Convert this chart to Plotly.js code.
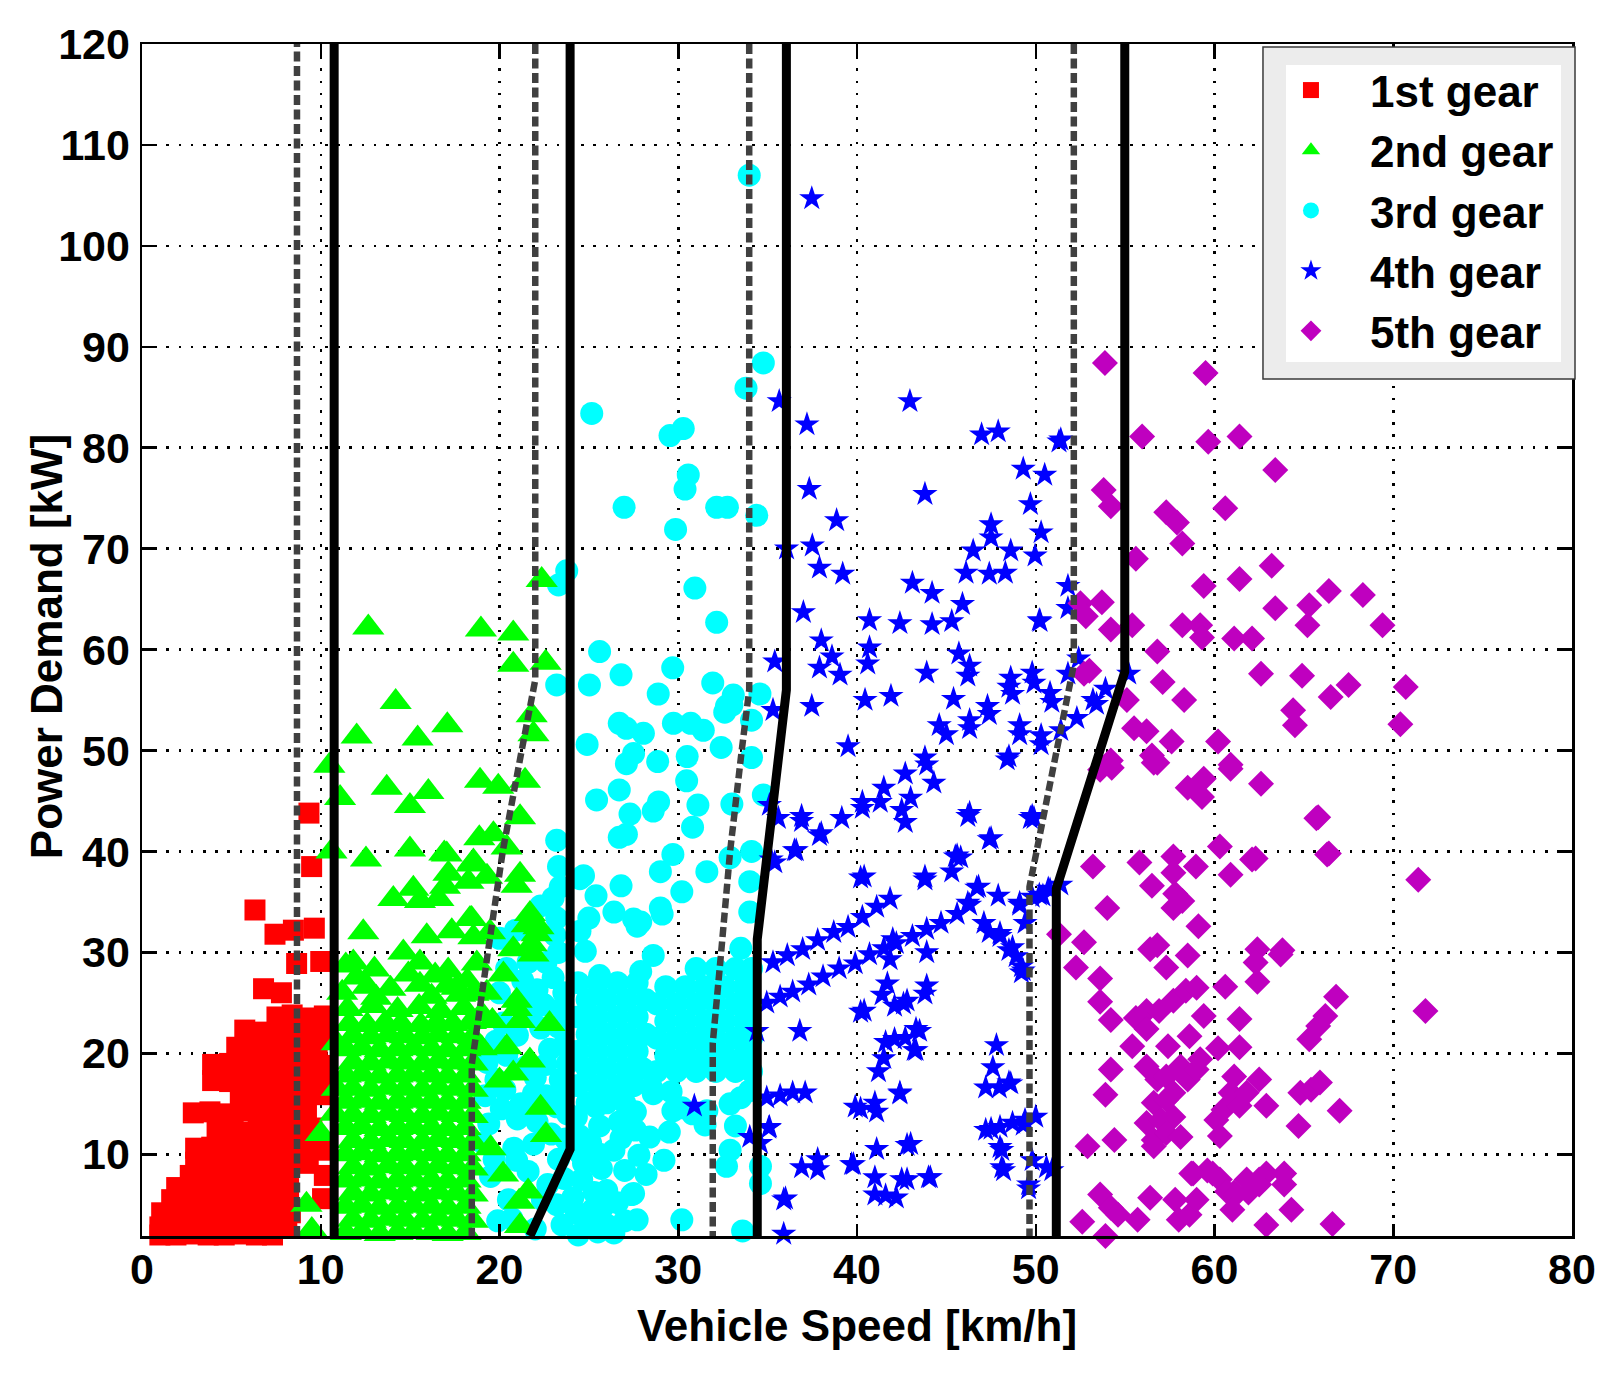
<!DOCTYPE html>
<html>
<head>
<meta charset="utf-8">
<script src="https://cdn.plot.ly/plotly-3.0.1.min.js"></script>
<style>
html,body{margin:0;padding:0;background:#fff;}
#chart{width:1612px;height:1375px;}
</style>
</head>
<body>
<div id="chart"></div>
<script>
// ---- Data: [vehicle speed km/h, power demand kW] per gear ----
const gear1Points = [
[9.34,43.8],[9.49,38.5],[6.32,34.2],[7.44,31.8],[8.47,32.2],[9.64,32.4],[8.65,28.9],[10.0,29.1],[6.8,26.4],[7.8,26.0],
[7.55,23.6],[8.4,23.8],[9.3,23.5],[10.2,23.7],
[5.75,22.3],[6.7,22.1],[7.6,22.4],[8.5,22.2],[9.4,22.3],[10.2,22.0],
[5.3,20.6],[6.2,20.8],[7.1,20.5],[8.0,20.7],[8.9,20.4],[9.8,20.6],
[3.95,18.9],[4.9,19.0],[5.8,18.8],[6.7,19.1],[7.6,18.7],[8.5,18.9],[9.4,19.2],[10.2,18.8],
[3.95,17.3],[4.9,17.2],[5.8,17.5],[6.7,17.3],[7.6,17.4],[8.5,17.1],[9.4,17.3],[10.2,17.5],
[5.5,15.8],[6.4,15.7],[7.3,15.9],[8.2,15.8],[9.1,15.6],[10.1,15.9],
[2.87,14.1],[3.8,14.2],[4.7,14.0],[5.6,14.3],[6.5,14.1],[7.4,14.0],[8.3,14.2],[9.2,14.1],
[4.2,12.3],[5.1,12.4],[6.0,12.2],[6.9,12.5],[7.8,12.3],[8.7,12.2],[9.5,12.6],
[3.0,10.6],[3.9,10.7],[4.8,10.5],[5.7,10.6],[6.6,10.8],[7.5,10.5],[8.4,10.6],[9.3,10.7],[10.2,10.4],
[3.0,9.2],[3.9,9.1],[4.8,9.3],[5.7,9.2],[6.6,9.0],[7.5,9.2],[8.4,9.3],[9.3,9.1],
[2.7,7.9],[3.6,8.0],[4.5,7.8],[5.4,7.9],[6.3,8.1],[7.2,7.8],[8.1,7.9],[10.2,7.9],
[1.94,6.7],[2.9,6.6],[3.8,6.8],[4.7,6.7],[5.6,6.5],[6.5,6.7],[7.4,6.8],[8.2,6.6],
[1.66,5.5],[2.6,5.4],[3.5,5.6],[4.4,5.5],[5.3,5.3],[6.2,5.5],[7.1,5.6],[8.0,5.4],[10.1,5.6],
[1.1,4.2],[2.0,4.1],[2.9,4.3],[3.8,4.2],[4.7,4.0],[5.6,4.2],[6.5,4.3],[7.4,4.1],[8.3,4.2],
[1.0,2.8],[1.9,2.9],[2.8,2.7],[3.7,2.8],[4.6,3.0],[5.5,2.8],[6.4,2.7],[7.3,2.9],[8.1,2.8],
[1.0,2.0],[1.9,2.0],[2.8,2.1],[3.7,2.0],[4.6,2.0],[5.5,2.1],[6.4,2.0],[7.3,2.0]
];

const gear2Points = [
[12.66,62.2],[18.96,62.0],[20.77,61.6],[20.77,58.5],[22.58,58.7],[22.36,66.9],[14.19,54.8],[12.01,51.4],[15.42,51.2],[17.08,52.5],
[21.8,53.5],[21.9,51.6],[10.48,48.5],[11.08,45.3],[13.69,46.3],[14.99,44.5],[16.02,45.9],[18.91,47.0],[19.93,46.4],[21.43,47.0],
[21.15,43.4],[10.6,40.0],[12.53,39.2],[14.99,40.2],[16.91,39.8],[18.87,41.3],[19.66,41.7],[18.44,38.7],[19.3,37.5],[21.15,37.7],
[20.4,40.4],[17.05,39.7],[18.54,39.0],[20.96,36.6],[14.06,35.3],[15.18,36.3],[15.55,35.1],[16.95,36.5],[16.58,35.3],[18.26,37.0],
[17.14,37.8],[18.35,33.3],[17.33,32.1],[18.54,31.5],[21.7,33.8],[22.18,32.5],[21.8,30.8],[12.38,32.0],[15.93,31.6],[18.44,33.3],
[19.47,32.0],[21.52,32.7],[22.08,31.8],[20.77,30.3],[11.82,29.0],[14.62,30.0],[15.55,29.0],[17.13,28.2],[18.73,28.9],[20.22,27.8],
[21.9,29.8],[17.6,26.5],[18.54,25.9],[19.29,26.0],[20.96,25.2],[20.96,24.4],[19.0,23.9],[19.6,23.2],[21.15,23.2],[22.8,22.9],
[20.4,20.6],[21.7,19.3],[20.0,17.3],[20.77,18.0],[22.3,14.6],[22.6,11.9],[19.5,10.6],[21.6,6.3],[21.1,5.3],[21.15,2.9],
[20.2,8.0],
[9.2,5.0],[9.5,2.5],[10.0,12.0],[10.9,21.0],[10.9,16.5],[10.8,14.0],[11.2,26.0],[11.4,28.7],
[12.0,27.5],[13.0,28.3],[14.9,27.8],[16.4,27.7],[18.2,27.2],
[12.6,26.6],[13.9,26.4],[15.55,26.8],[17.1,26.7],[13.1,25.5],[16.2,25.6],[17.8,25.8],
[11.5,24.4],[12.9,24.7],[14.3,24.3],[15.5,24.6],[16.7,24.2],[18.0,24.5],
[11.6,22.9],[12.6,22.8],[13.6,23.0],[14.5,22.9],[15.6,22.8],[16.5,23.0],[17.4,22.9],[18.4,23.1],
[11.8,21.7],[12.8,21.6],[13.8,21.8],[14.7,21.7],[15.7,21.6],[16.6,21.8],[17.6,21.7],[18.5,21.6],
[11.4,20.4],[12.3,20.5],[13.3,20.3],[14.3,20.4],[15.2,20.5],[16.2,20.4],[17.1,20.3],[18.1,20.4],[19.0,20.5],
[11.8,19.1],[12.8,19.0],[13.8,19.2],[14.7,19.1],[15.7,19.0],[16.6,19.2],[17.6,19.1],[18.5,19.0],
[11.4,17.8],[12.3,17.9],[13.3,17.7],[14.3,17.8],[15.2,17.9],[16.2,17.8],[17.1,17.7],[18.1,17.8],
[11.8,16.5],[12.8,16.4],[13.8,16.6],[14.7,16.5],[15.7,16.4],[16.6,16.6],[17.6,16.5],[18.5,16.4],
[11.4,15.2],[12.3,15.3],[13.3,15.1],[14.3,15.2],[15.2,15.3],[16.2,15.2],[17.1,15.1],[18.1,15.2],
[11.8,13.9],[12.8,13.8],[13.8,14.0],[14.7,13.9],[15.7,13.8],[16.6,14.0],[17.6,13.9],[18.5,13.8],
[11.4,12.6],[12.3,12.7],[13.3,12.5],[14.3,12.6],[15.2,12.7],[16.2,12.6],[17.1,12.5],[18.1,12.6],
[11.8,11.3],[12.8,11.2],[13.8,11.4],[14.7,11.3],[15.7,11.2],[16.6,11.4],[17.6,11.3],[18.5,11.2],
[11.4,10.0],[12.3,10.1],[13.3,9.9],[14.3,10.0],[15.2,10.1],[16.2,10.0],[17.1,9.9],[18.1,10.0],
[11.8,8.7],[12.8,8.6],[13.8,8.8],[14.7,8.7],[15.7,8.6],[16.6,8.8],[17.6,8.7],[18.5,8.6],
[11.4,7.4],[12.3,7.5],[13.3,7.3],[14.3,7.4],[15.2,7.5],[16.2,7.4],[17.1,7.3],[18.1,7.4],
[11.8,6.1],[12.8,6.0],[13.8,6.2],[14.7,6.1],[15.7,6.0],[16.6,6.2],[17.6,6.1],[18.5,6.0],
[11.4,4.8],[12.3,4.9],[13.3,4.7],[14.3,4.8],[15.2,4.9],[16.2,4.8],[17.1,4.7],[18.1,4.8],
[11.8,3.5],[12.8,3.4],[13.8,3.6],[14.7,3.5],[15.7,3.4],[16.6,3.6],[17.6,3.5],[18.5,3.4],
[11.4,2.2],[12.3,2.3],[13.3,2.1],[14.3,2.2],[15.2,2.3],[16.2,2.2],[17.1,2.1],[18.1,2.2]
];

const gear3Points = [
[33.97,107.0],[34.76,88.4],[33.79,85.9],[25.16,83.4],[29.54,81.2],[30.28,81.9],[30.56,77.3],[30.38,75.9],[26.97,74.1],[32.15,74.1],
[32.75,74.1],[34.39,73.3],[29.85,71.9],[30.93,66.1],[23.76,67.8],[23.3,66.4],[32.15,62.7],[25.6,59.8],[29.69,58.2],[26.8,57.5],
[25.03,56.5],[23.2,56.5],[31.93,56.7],[28.88,55.6],[34.57,55.6],[33.08,55.5],
[32.7,54.4],[27.1,52.2],[28.05,51.7],[26.7,52.7],[29.73,52.7],[30.7,52.7],[31.4,52.0],[32.6,53.8],[33.0,54.5],[32.4,50.3],
[34.1,53.0],[34.1,49.3],[27.1,48.7],[27.5,49.7],[28.85,48.9],[30.5,49.4],[30.47,47.0],[26.7,46.1],[25.43,45.1],[28.9,44.9],
[28.6,44.0],[27.3,43.7],[31.1,44.6],[30.8,42.4],[33.0,44.7],[34.76,45.6],[26.7,41.4],[27.1,41.7],[23.2,41.1],[29.7,39.7],
[29.0,38.0],[31.6,38.0],[32.9,39.4],[34.1,40.0],[34.0,37.0],[26.8,36.6],[24.7,37.6],[23.0,35.4],[30.2,36.0],[29.0,34.4],
[34.0,34.0],[24.5,37.3],[25.4,35.6],[26.4,34.0],[27.5,33.3],[27.9,33.0],[25.0,33.4],[24.5,32.1],[24.8,30.1],[23.2,33.4],
[23.1,31.7],[28.6,29.7],[20.4,28.4],[20.0,31.4],[22.1,26.3],[25.6,27.7],[27.9,28.1],[24.9,50.6],[23.3,38.5],[29.1,33.8],
[27.7,32.6],[33.5,30.4],[21.8,26.0],[22.3,34.6],[23.4,36.5],[20.9,32.2],
[24.4,27.0],[25.5,27.0],[26.6,27.0],[27.7,27.0],
[24.9,25.3],[26.0,25.3],[27.1,25.3],[28.2,25.3],
[24.4,23.6],[25.5,23.6],[26.6,23.6],[27.7,23.6],
[24.9,21.9],[26.0,21.9],[27.1,21.9],[28.2,21.9],
[24.4,20.2],[25.5,20.2],[26.6,20.2],[27.7,20.2],
[24.9,18.5],[26.0,18.5],[27.1,18.5],[28.0,18.5],
[24.4,16.8],[25.5,16.8],[26.6,16.8],[27.5,16.8],
[24.9,15.1],[26.0,15.1],[27.0,15.1],
[31.0,28.4],[32.1,28.4],[33.2,28.4],[34.1,28.4],
[29.3,26.6],[30.4,26.6],[31.5,26.6],[32.6,26.6],[33.7,26.6],
[28.8,24.9],[29.9,24.9],[31.0,24.9],[32.1,24.9],[33.2,24.9],[34.1,24.9],
[29.3,23.2],[30.4,23.2],[31.5,23.2],[32.6,23.2],[33.7,23.2],
[28.8,21.5],[29.9,21.5],[31.0,21.5],[32.1,21.5],[33.2,21.5],[34.1,21.5],
[29.3,19.8],[30.4,19.8],[31.5,19.8],[32.6,19.8],[33.7,19.8],
[28.8,18.2],[29.9,18.2],[31.0,18.2],[32.1,18.2],[33.2,18.2],[34.1,18.2],
[28.5,16.6],[29.6,16.2],[28.6,16.0],[29.7,14.3],[30.8,14.0],[31.6,14.3],[32.9,15.0],[34.0,16.3],[30.2,14.6],[33.5,15.6],
[29.5,12.2],[31.5,12.9],[33.2,12.8],[28.4,11.7],[29.2,9.4],
[27.6,12.4],[32.9,10.4],[32.7,8.8],[34.6,8.8],[34.6,7.1],[26.4,10.4],[27.0,8.4],[26.0,6.4],[27.5,6.1],[24.7,9.1],
[24.1,5.7],[25.1,11.1],[24.3,13.7],[25.4,14.7],[26.4,15.7],[24.5,11.8],[25.6,12.8],[26.7,13.2],[27.6,14.2],[24.6,7.5],
[25.7,8.6],[25.3,6.2],[24.9,3.8],[26.4,2.2],[27.7,3.5],[28.2,8.0],[23.5,3.0],[24.4,2.0],[25.2,4.5],[26.0,3.0],
[26.6,5.2],[27.4,6.0],[30.2,3.5],[33.6,2.4],[24.5,10.1],[25.6,10.0],[26.8,11.6],[27.8,9.9],[24.3,4.2],[25.8,4.8],
[27.0,3.4],[25.5,2.3],
[20.96,9.4],[19.5,7.8],[19.1,11.1],[19.3,19.1],[19.8,17.4],[21.5,18.7],[22.8,20.4],[23.4,17.4],[23.2,14.7],[21.9,16.0],
[22.9,12.0],[23.3,9.5],[22.7,7.0],[23.2,5.0],[21.9,11.0],[22.3,22.5],[23.5,24.5],[23.0,27.5],[21.0,13.5],[20.1,14.5],
[19.9,3.4],[20.5,5.5],[23.6,20.8],[22.5,24.8],[19.8,21.2],
[19.2,15.8],[20.3,16.4],[21.2,15.0],[22.0,17.6],[22.6,18.9],[21.0,21.8],[20.2,23.0],[21.8,24.0],[23.3,22.6],[20.0,26.0],
[21.3,27.2],[22.6,29.0],[23.3,30.0],[19.7,9.5],[20.8,10.6],[22.1,13.2],[21.6,8.3],[22.4,5.5],[20.7,3.6],[22.0,2.6],
[23.6,7.6],[23.7,11.5],[23.8,14.0],[23.6,16.0],[23.8,19.0],[23.6,26.0],[21.6,29.0],[19.4,13.0],[20.4,19.8],[22.6,15.8]
];

const gear4Points = [
[37.47,104.7],[35.65,84.6],[42.96,84.6],[37.2,82.3],[46.97,81.3],[47.9,81.6],[51.3,80.6],[49.3,77.9],[50.5,77.3],[37.33,75.9],
[43.8,75.4],[49.7,74.4],[38.86,72.8],[47.5,72.4],[47.5,71.1],[50.3,71.6],[36.06,70.0],[37.5,70.3],[46.5,69.8],[48.6,69.8],
[49.96,69.3],[37.9,68.1],[39.2,67.5],[46.1,67.6],[47.4,67.5],[48.3,67.6],[43.1,66.6],[44.2,65.6],[45.9,64.5],[40.7,62.9],
[42.4,62.6],[44.2,62.5],[45.3,62.8],[50.2,62.9],[37.0,63.7],[38.0,60.9],[38.6,59.3],[40.7,60.2],[40.6,58.6],[35.4,58.8],
[37.9,58.2],[39.05,57.5],[43.9,57.7],[45.7,59.6],[46.3,58.4],[48.6,57.2],[49.8,57.7],[51.8,66.3],[51.8,64.1],
[37.47,54.4],[40.45,55.0],[41.9,55.4],[45.4,55.1],[47.3,54.4],[48.5,56.3],[50.8,55.7],[44.6,52.5],[45.0,51.6],[46.3,53.0],
[49.1,52.5],[50.3,51.5],[39.5,50.4],[43.8,49.3],[43.9,48.6],[42.7,47.7],[44.3,46.8],[41.5,46.3],[48.4,49.1],[40.3,44.9],
[42.5,44.1],[42.7,42.9],[36.9,43.5],[39.15,43.3],[37.9,41.6],[46.3,43.8],[49.8,43.5],[47.4,41.2],[36.6,40.1],[35.4,38.9],
[45.6,39.6],[45.3,38.0],[40.4,37.5],[43.8,37.5],[46.8,36.5],[50.8,36.2],[50.2,35.7],[49.1,34.7],
[35.3,29.0],[36.1,29.7],[36.96,30.3],[37.8,31.2],[38.7,32.0],[39.5,32.5],[40.3,33.5],[41.1,34.5],[41.85,35.3],
[34.95,25.0],[35.7,25.6],[36.4,26.1],[37.3,26.8],[38.1,27.6],[39.0,28.4],[39.9,28.9],[40.7,29.8],[41.5,30.4],[42.2,30.9],
[43.1,31.6],[43.9,32.3],[44.7,32.9],[45.6,33.8],[46.3,34.7],
[41.85,29.3],[42.0,31.3],[43.9,30.0],[47.1,32.9],[48.0,31.6],[48.5,30.2],[48.9,29.6],[49.3,28.2],[43.9,26.7],[42.1,24.7],
[42.8,25.2],[40.4,24.2],[36.8,22.2],[34.4,22.2],[42.1,21.4],[42.7,21.5],[43.5,22.2],[43.3,20.3],[41.5,19.5],[41.2,18.2],
[47.8,20.8],[47.6,18.6],[47.96,16.6],[48.5,17.1],[47.2,16.6],[42.4,16.1],[40.2,14.5],[41.0,15.1],[41.1,14.2],
[34.95,15.6],[35.7,15.8],[36.4,16.1],[37.1,16.1],[35.1,12.7],[34.0,11.7],
[47.2,12.4],[48.0,12.7],[48.7,13.1],[49.4,13.4],[50.0,13.7],[48.0,10.7],[48.1,8.7],[41.1,10.5],[43.0,11.0],[36.9,8.7],
[37.8,9.5],[39.8,9.0],[41.0,7.7],[42.8,7.5],[44.1,7.7],[41.6,5.9],[42.2,5.7],[36.0,5.6],[49.8,9.4],[49.6,7.0],[50.6,8.7],
[50.24,62.8],[46.2,57.4],[48.7,55.6],[47.4,53.6],[49.9,56.7],[50.9,54.8],[52.3,53.2],[53.4,54.6],[51.4,52.0],[49.1,51.6],
[50.3,50.6],[48.5,49.4],[46.3,52.2],[46.2,43.5],[47.5,41.3],[49.9,43.3],[45.8,39.4],[46.2,34.9],[48.0,31.9],[49.2,28.6],
[49.1,34.9],[49.8,35.5],[50.7,36.3],[51.4,36.7],[48.6,17.0],[47.5,12.5],[49.3,12.9],[48.1,10.4],[48.2,8.4],[50.9,8.4],[49.6,6.6],
[53.9,56.1],[55.2,57.6],[53.2,55.0],[52.4,59.1],[51.8,57.6],[51.4,80.8],[35.6,43.3],[36.9,43.0],[38.0,41.8],[40.3,44.3],
[41.3,44.9],[43.0,45.3],[49.7,43.3],[35.2,39.2],[36.5,40.1],[40.2,37.4],[43.8,37.2],[45.5,39.5],[46.7,36.4],[47.9,35.6],
[49.4,32.9],[49.2,28.0],[48.7,30.5],[47.4,32.0],[50.4,35.6],[30.9,14.8],[35.06,12.6],[34.6,11.1],[35.9,5.5],[35.9,2.1],
[37.8,8.5],[39.7,9.0],[41.0,6.0],[42.5,7.5],[44.0,7.7],[42.8,10.9],[39.9,14.7],[41.6,21.1],[42.4,16.0],[43.2,20.3],
[43.3,22.4],[43.8,25.9],[42.6,24.9],[41.4,25.8],[40.2,24.1],[41.7,26.9],[35.3,54.0],[35.1,44.6]
];

const gear5Points = [
[53.87,88.4],[59.5,87.4],[55.95,81.1],[59.65,80.6],[61.4,81.1],[63.4,77.8],[53.8,75.8],[54.2,74.2],[60.6,74.0],[57.3,73.6],
[57.9,72.6],[58.2,70.5],[55.6,69.0],[63.2,68.3],[61.4,67.0],[59.4,66.3],[52.5,64.6],[52.8,63.3],[53.7,64.7],[55.4,62.4],
[54.2,62.0],[58.2,62.4],[59.2,62.4],[59.3,61.2],[61.1,61.1],[62.1,61.1],[63.4,64.1],[65.3,64.4],[65.2,62.4],[66.4,65.8],
[68.3,65.4],[69.4,62.4],[56.8,59.8],[52.7,57.6],[53.0,57.9],[57.1,56.8],[58.3,55.0],[55.1,55.0],[62.6,57.6],[64.9,57.4],
[64.4,54.0],[64.5,52.5],[66.5,55.3],[67.5,56.5],[70.4,52.6],[70.7,56.3],[55.5,52.2],[56.2,51.9],[56.5,49.5],[56.8,48.8],
[57.6,50.9],[60.2,50.9],[60.9,48.6],[54.2,49.0],[53.6,48.1],
[54.25,48.3],[56.6,48.8],[60.9,48.2],[62.6,46.7],[58.5,46.3],[59.4,47.2],[59.3,45.4],[65.8,43.4],[60.3,40.5],[66.4,39.8],
[53.2,38.5],[55.8,38.9],[57.7,39.5],[57.7,37.9],[58.96,38.5],[62.3,39.3],[60.9,37.7],[56.5,36.6],[57.8,35.8],[58.2,35.1],
[57.7,34.4],[54.0,34.4],[59.1,32.6],[51.3,31.8],[52.7,31.0],[56.4,30.3],[56.8,30.7],[58.5,29.7],[62.4,30.3],[63.8,30.2],
[52.25,28.5],[53.6,27.4],[57.3,28.5],[60.6,26.6],[62.4,27.1],[66.8,25.6],[53.6,25.1],[54.2,23.3],[55.6,23.5],[56.2,24.2],
[56.9,24.2],[57.7,25.2],[58.4,26.2],[59.0,26.5],[55.4,20.7],[56.2,22.4],[57.4,20.7],[58.6,21.7],[59.4,23.7],[60.2,20.5],
[61.4,23.4],[61.4,20.6],[65.8,22.7],[65.3,21.4],[66.2,23.7],[54.2,18.4],[53.9,15.9],[56.2,18.7],[56.8,17.4],[57.3,17.7],
[58.1,18.7],[58.5,17.4],[59.0,18.4],[59.2,19.4],[56.6,15.1],[57.3,15.4],[57.7,16.1],[56.2,13.1],[57.0,13.4],[57.7,13.7],
[56.6,11.4],[57.3,12.1],[58.1,11.7],[56.6,10.8],[61.1,17.7],[60.9,16.1],[60.5,14.4],[60.1,13.4],[60.3,11.8],[61.4,14.8],
[61.8,16.1],[62.9,14.8],[62.5,17.4],[64.8,16.1],[65.4,16.4],[65.9,17.1],[67.0,14.3],[64.7,12.8],[52.9,10.8],[54.4,11.4],
[59.6,8.4],[58.8,8.1],[60.3,7.5],[61.1,6.2],[61.8,7.5],[62.5,7.5],[62.9,8.1],[63.9,8.1],
[71.4,37.2],[71.8,24.2],[66.3,39.7],[65.7,43.3],[62.3,29.0],[63.7,29.8],[62.1,39.2],
[52.6,3.3],[53.9,1.9],[53.6,6.0],[54.2,4.7],[54.6,4.0],[55.7,3.5],[56.4,5.7],[57.8,5.5],[58.0,3.5],[58.6,4.0],
[58.7,8.1],[59.0,5.5],[59.9,8.1],[60.7,6.3],[61.2,6.0],[61.9,6.2],[62.5,7.0],[62.9,3.0],[63.9,7.0],[64.3,4.5],
[66.6,3.1],[61.0,4.5]
];

// ---- Shift schedule lines ----
const upshift12Speed = [10.75, 10.75];               const upshift12Power = [1.9, 120];
const upshift23Speed = [21.7, 23.95, 23.95];         const upshift23Power = [1.9, 10.5, 120];
const upshift34Speed = [34.42, 34.42, 36.05, 36.05]; const upshift34Power = [1.9, 31.3, 56, 120];
const upshift45Speed = [51.15, 51.15, 54.98, 54.98]; const upshift45Power = [1.9, 36.3, 57.8, 120];

const downshift21Speed = [8.67, 8.67];               const downshift21Power = [1.9, 120];
const downshift32Speed = [22.0, 22.0, 21.24, 20.18, 19.35, 18.45, 18.45];
const downshift32Power = [120, 57, 50, 40, 30, 18.9, 1.9];
const downshift43Speed = [33.97, 33.97, 33.55, 32.9, 32.4, 31.93, 31.93];
const downshift43Power = [120, 56, 50, 40, 30, 21, 1.9];
const downshift54Speed = [52.13, 52.13, 51.17, 50.07, 49.65, 49.65];
const downshift54Power = [120, 58.5, 50, 40, 36.5, 1.9];

const gearNames = ['1st gear', '2nd gear', '3rd gear', '4th gear', '5th gear'];
const xTickVals = [0, 10, 20, 30, 40, 50, 60, 70, 80];
const yTickVals = [10, 20, 30, 40, 50, 60, 70, 80, 90, 100, 110, 120];
const xTitle = 'Vehicle Speed [km/h]';
const yTitle = 'Power Demand [kW]';

// ---- Build traces ----
const FONT = 'Arial, "Liberation Sans", Helvetica, sans-serif';
const xs = p => p.map(d => d[0]);
const ys = p => p.map(d => d[1]);

function markerTrace(points, name, symbol, color, size, rank) {
  return {
    type: 'scatter', mode: 'markers', name: name, legendrank: rank,
    x: xs(points), y: ys(points),
    cliponaxis: false,
    marker: {symbol: symbol, color: color, size: size, line: {width: 0}},
    hoverinfo: 'skip'
  };
}
function lineTrace(x, y, dashed) {
  return {
    type: 'scatter', mode: 'lines', x: x, y: y, showlegend: false, hoverinfo: 'skip',
    line: dashed ? {color: '#404040', width: 6.5, dash: '10px,4.5px'} : {color: '#000000', width: 9}
  };
}

const traces = [
  markerTrace(gear1Points, gearNames[0], 'square', '#ff0000', 21, 1),
  markerTrace(gear3Points, gearNames[2], 'circle', '#00ffff', 23, 3),
  markerTrace(gear2Points, gearNames[1], 'triangle-up', '#00ff00', 28, 2),
  markerTrace(gear4Points, gearNames[3], 'star', '#0000ff', 19, 4),
  markerTrace(gear5Points, gearNames[4], 'diamond', '#bf00bf', 20, 5),
  lineTrace(downshift21Speed, downshift21Power, true),
  lineTrace(downshift32Speed, downshift32Power, true),
  lineTrace(downshift43Speed, downshift43Power, true),
  lineTrace(downshift54Speed, downshift54Power, true),
  lineTrace(upshift12Speed, upshift12Power, false),
  lineTrace(upshift23Speed, upshift23Power, false),
  lineTrace(upshift34Speed, upshift34Power, false),
  lineTrace(upshift45Speed, upshift45Power, false)
];

const axisCommon = {
  ticks: 'inside', ticklen: 12, tickwidth: 2.5, tickcolor: '#000',
  showline: true, linecolor: '#000', linewidth: 2.5, mirror: 'ticks',
  showgrid: true, gridcolor: '#000', gridwidth: 2.5, griddash: '2.5px,9.7px',
  zeroline: false,
  tickfont: {family: FONT, size: 43, color: '#000', weight: 'bold'}
};

const layout = {
  width: 1612, height: 1375,
  margin: {l: 142, r: 40, t: 44, b: 139},
  paper_bgcolor: '#ffffff', plot_bgcolor: '#ffffff',
  font: {family: FONT, size: 43, color: '#000', weight: 'bold'},
  showlegend: true,
  legend: {
    x: 0.7762, y: 0.9908, xanchor: 'left', yanchor: 'top',
    bgcolor: 'rgba(0,0,0,0)', borderwidth: 0, itemwidth: 108, tracegroupgap: 0,
    traceorder: 'normal',
    font: {family: FONT, size: 44, color: '#000', weight: 'bold'}
  },
  xaxis: Object.assign({}, axisCommon, {
    range: [0, 80], tickvals: xTickVals, ticktext: xTickVals.map(String),
    ticklabelstandoff: -6,
    title: {text: xTitle, font: {family: FONT, size: 44, color: '#000', weight: 'bold'}, standoff: 18}
  }),
  yaxis: Object.assign({}, axisCommon, {
    range: [1.9, 120], tickvals: yTickVals, ticktext: yTickVals.map(String),
    ticklabelstandoff: 1
  }),
  annotations: [
    {text: yTitle, xref: 'paper', yref: 'paper', x: -0.0671, y: 0.494, xanchor: 'center', yanchor: 'middle',
     textangle: -90, showarrow: false, font: {family: FONT, size: 44, color: '#000', weight: 'bold'}}
  ],
  shapes: [
    {type: 'rect', xref: 'paper', yref: 'paper', x0: 0.7839, x1: 1.0021, y0: 0.7190, y1: 0.9975,
     fillcolor: '#ececec', line: {color: '#3a3a3a', width: 1.5}, layer: 'above'},
    {type: 'rect', xref: 'paper', yref: 'paper', x0: 0.8, x1: 0.9923, y0: 0.7332, y1: 0.9824,
     fillcolor: '#ffffff', line: {width: 0}, layer: 'above'}
  ]
};

Plotly.newPlot('chart', traces, layout, {staticPlot: true, displayModeBar: false});
</script>
</body>
</html>
